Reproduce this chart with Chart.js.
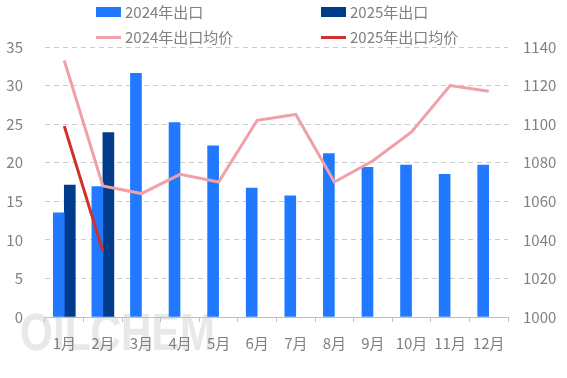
<!DOCTYPE html>
<html>
<head>
<meta charset="utf-8">
<script src="https://cdn.jsdelivr.net/npm/chart.js@4"></script>
<style>
  body { margin: 0; background: #fff; }
  #wrap { position: relative; width: 567px; height: 378px; }
  .lg { position: absolute; font: 15px "Noto Sans CJK SC", sans-serif; color: #808080; line-height: 18px; white-space: nowrap; }
  .lg i { display: inline-block; width: 25px; vertical-align: middle; margin-right: 4px; margin-top: -3px; }
</style>
</head>
<body>
<div id="wrap">
  <canvas id="c" width="567" height="378"></canvas>
  <div class="lg" style="left:96px;top:3px"><i style="height:10px;background:#2079ff"></i>2024年出口</div>
  <div class="lg" style="left:321px;top:3px"><i style="height:10px;background:#013b8b"></i>2025年出口</div>
  <div class="lg" style="left:96px;top:28px"><i style="height:3px;background:#f0a0a8"></i>2024年出口均价</div>
  <div class="lg" style="left:321px;top:28px"><i style="height:3px;background:#d0302a"></i>2025年出口均价</div>
</div>
<script>
const months = ["1月", "2月", "3月", "4月", "5月", "6月", "7月", "8月", "9月", "10月", "11月", "12月"];
const export2024 = [13.5, 16.9, 31.6, 25.2, 22.2, 16.7, 15.7, 21.2, 19.4, 19.7, 18.5, 19.7];
const export2025 = [17.1, 23.9, null, null, null, null, null, null, null, null, null, null];
const price2024 = [1133, 1068, 1064, 1074, 1070, 1102, 1105, 1070, 1081, 1096, 1120, 1117];
const price2025 = [1099, 1034, null, null, null, null, null, null, null, null, null, null];

const tickFont = { size: 15, family: "Noto Sans CJK SC" };

// faint company watermark behind the plot
const watermark = {
  id: "watermark",
  beforeDraw(chart) {
    const ctx = chart.ctx;
    ctx.save();
    ctx.font = "bold 52px 'Liberation Sans'";
    const w = ctx.measureText("OILCHEM").width;
    const g = ctx.createLinearGradient(0, 305, 0, 350);
    g.addColorStop(0, "rgba(190,190,190,0.35)");
    g.addColorStop(1, "rgba(225,225,225,0.35)");
    ctx.fillStyle = g;
    ctx.translate(20, 350);
    ctx.scale(195 / w, 1);
    ctx.fillText("OILCHEM", 0, 0);
    ctx.restore();
  },
};

new Chart(document.getElementById("c"), {
  type: "bar",
  plugins: [watermark],
  data: {
    labels: months,
    datasets: [
      {
        label: "2024年出口均价",
        type: "line",
        data: price2024,
        yAxisID: "y1",
        borderColor: "#f0a0a8",
        borderWidth: 3,
        pointRadius: 0,
        tension: 0,
        order: 0,
      },
      {
        label: "2025年出口均价",
        type: "line",
        data: price2025,
        yAxisID: "y1",
        borderColor: "#d0302a",
        borderWidth: 3,
        pointRadius: 0,
        tension: 0,
        order: 0,
      },
      {
        label: "2024年出口",
        data: export2024,
        backgroundColor: "#2079ff",
        barThickness: 11,
        yAxisID: "y",
        order: 1,
      },
      {
        label: "2025年出口",
        data: export2025,
        backgroundColor: "#013b8b",
        barThickness: 11,
        yAxisID: "y",
        order: 1,
      },
    ],
  },
  options: {
    responsive: false,
    animation: false,
    layout: { padding: { top: 47, bottom: 14 } },
    plugins: {
      legend: { display: false },
      tooltip: { enabled: false },
    },
    scales: {
      x: {
        offset: true,
        grid: {
          display: true,
          drawOnChartArea: false,
          drawTicks: true,
          tickLength: 5,
          color: "#bfbfbf",
        },
        border: { display: true, color: "#bfbfbf" },
        ticks: { color: "#808080", padding: 12, font: tickFont, maxRotation: 0, autoSkip: false },
      },
      y: {
        position: "left",
        min: 0,
        max: 35,
        afterFit: (s) => { s.width = 45; },
        grid: { color: "#cccccc", drawTicks: false },
        border: { display: false, dash: [5, 4] },
        ticks: { stepSize: 5, color: "#808080", padding: 22, font: tickFont },
      },
      y1: {
        position: "right",
        min: 1000,
        max: 1140,
        afterFit: (s) => { s.width = 59; },
        grid: { drawOnChartArea: false, drawTicks: false },
        border: { display: false },
        ticks: { stepSize: 20, color: "#808080", padding: 15, font: tickFont, callback: (v) => String(v) },
      },
    },
  },
});
</script>
</body>
</html>
